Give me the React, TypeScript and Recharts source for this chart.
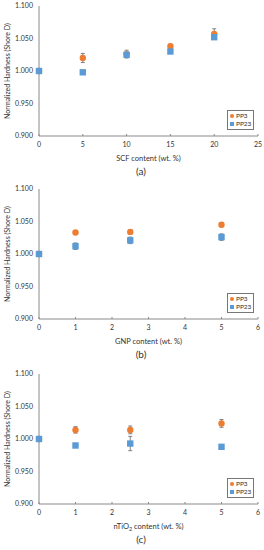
import {
  ScatterChart, Scatter, XAxis, YAxis, ErrorBar, Legend,
} from 'recharts';

// (a) SCF
const scfX = [0, 5, 10, 15, 20];
const scfPP3 = [1.0, 1.02, 1.026, 1.038, 1.057];
const scfPP3Err = [0.002, 0.007, 0.006, 0.003, 0.008];
const scfPP23 = [1.0, 0.998, 1.025, 1.03, 1.052];
const scfPP23Err = [0.002, 0.002, 0.003, 0.002, 0.003];
const scfTicks = [0, 5, 10, 15, 20, 25];

// (b) GNP
const gnpX = [0, 1, 2.5, 5];
const gnpPP3 = [1.0, 1.033, 1.034, 1.045];
const gnpPP3Err = [0.002, 0.003, 0.003, 0.003];
const gnpPP23 = [1.0, 1.012, 1.021, 1.026];
const gnpPP23Err = [0.003, 0.005, 0.005, 0.005];

// (c) nTiO2
const tioX = [0, 1, 2.5, 5];
const tioPP3 = [1.0, 1.014, 1.014, 1.024];
const tioPP3Err = [0.002, 0.005, 0.006, 0.006];
const tioPP23 = [1.0, 0.99, 0.993, 0.988];
const tioPP23Err = [0.003, 0.003, 0.011, 0.002];

const smallTicks = [0, 1, 2, 3, 4, 5, 6];
const yTicks = [0.9, 0.95, 1.0, 1.05, 1.1];

const ORANGE = '#ED7D31';
const BLUE = '#5B9BD5';
const AXIS = '#8a8a8a';
const TEXT = '#333';
const FONT = 'Lato, "Open Sans", sans-serif';

const rows = (xs: number[], ys: number[], es: number[]) =>
  xs.map((x, i) => ({ x, y: ys[i], err: es[i] }));

const dot = (p: any) => <circle cx={p.cx} cy={p.cy} r={3.2} fill={ORANGE} />;
const box = (p: any) => <rect x={p.cx - 3.2} y={p.cy - 3.2} width={6.4} height={6.4} fill={BLUE} />;

function LegendBox() {
  return (
    <div style={{
      boxSizing: 'border-box', border: '1px solid #777', background: '#fff', fontFamily: FONT, fontSize: 6.5,
      color: TEXT, padding: '1px 2px', lineHeight: '8px', width: 27, height: 20, whiteSpace: 'nowrap',
    }}>
      <div><span style={{ display: 'inline-block', width: 4, height: 4, borderRadius: 2, background: ORANGE, marginRight: 2 }} />PP3</div>
      <div><span style={{ display: 'inline-block', width: 4, height: 4, background: BLUE, marginRight: 2 }} />PP23</div>
    </div>
  );
}

interface PanelProps {
  top: number;
  pp3: { x: number; y: number; err: number }[];
  pp23: { x: number; y: number; err: number }[];
  xMax: number;
  xTicks: number[];
  title: React.ReactNode;
  caption: string;
}

function Panel({ top, pp3, pp23, xMax, xTicks, title, caption }: PanelProps) {
  return (
    <div style={{ position: 'absolute', left: 0, top, width: 264, height: 180 }}>
      <ScatterChart width={264} height={180} margin={{ top: 6, right: 6, bottom: 18, left: 0 }}>
        <XAxis
          type="number" dataKey="x" domain={[0, xMax]} ticks={xTicks} height={26}
          tickSize={-2} tickMargin={8} stroke={AXIS}
          tick={{ fill: TEXT, fontSize: 7, fontFamily: FONT }}
          label={(props: any) => {
            const vb = props.viewBox;
            return (
              <text x={vb.x + vb.width / 2} y={vb.y + 22} textAnchor="middle" dominantBaseline="central"
                fill={TEXT} fontSize={7.5} fontFamily={FONT}>{title}</text>
            );
          }}
        />
        <XAxis xAxisId="top" orientation="top" type="number" domain={[0, xMax]} height={0} tick={false} tickLine={false} stroke={AXIS} />
        <YAxis
          type="number" dataKey="y" domain={[0.9, 1.1]} ticks={yTicks} width={39}
          tickSize={0} tickMargin={6} stroke={AXIS}
          tickFormatter={(v: number) => v.toFixed(3)}
          tick={{ fill: TEXT, fontSize: 7, fontFamily: FONT }}
          label={(props: any) => {
            const vb = props.viewBox;
            const cx = vb.x + 7;
            const cy = vb.y + vb.height / 2;
            return (
              <text x={cx} y={cy} transform={`rotate(-90 ${cx} ${cy})`} textAnchor="middle" dominantBaseline="central"
                fill={TEXT} fontSize={7} fontFamily={FONT}>Normalized Hardness (Shore D)</text>
            );
          }}
        />
        <YAxis yAxisId="right" orientation="right" type="number" domain={[0.9, 1.1]} width={0} tick={false} tickLine={false} stroke={AXIS} />
        <Legend
          layout="vertical" align="center" verticalAlign="middle"
          wrapperStyle={{ left: 227, top: 110, width: 27, height: 20 }}
          content={() => <LegendBox />}
        />
        <Scatter name="PP3" data={pp3} shape={dot} isAnimationActive={false}>
          <ErrorBar dataKey="err" direction="y" width={2} stroke="#666" strokeWidth={0.8} />
        </Scatter>
        <Scatter name="PP23" data={pp23} shape={box} isAnimationActive={false}>
          <ErrorBar dataKey="err" direction="y" width={2} stroke="#666" strokeWidth={0.8} />
        </Scatter>
      </ScatterChart>
      <div style={{
        position: 'absolute', left: 121, top: 163, width: 40, textAlign: 'center',
        fontFamily: FONT, fontSize: 10, color: TEXT, lineHeight: '16px',
      }}>{caption}</div>
    </div>
  );
}

export default function App() {
  return (
    <div style={{ position: 'absolute', left: 0, top: 0, width: 264, height: 550, background: '#fff' }}>
      <Panel top={0} pp3={rows(scfX, scfPP3, scfPP3Err)} pp23={rows(scfX, scfPP23, scfPP23Err)}
        xMax={25} xTicks={scfTicks} title="SCF content (wt. %)" caption="(a)" />
      <Panel top={183} pp3={rows(gnpX, gnpPP3, gnpPP3Err)} pp23={rows(gnpX, gnpPP23, gnpPP23Err)}
        xMax={6} xTicks={smallTicks} title="GNP content (wt. %)" caption="(b)" />
      <Panel top={368} pp3={rows(tioX, tioPP3, tioPP3Err)} pp23={rows(tioX, tioPP23, tioPP23Err)}
        xMax={6} xTicks={smallTicks}
        title={<>nTiO<tspan baselineShift="sub" fontSize={5.5}>2</tspan> content (wt. %)</>}
        caption="(c)" />
    </div>
  );
}
